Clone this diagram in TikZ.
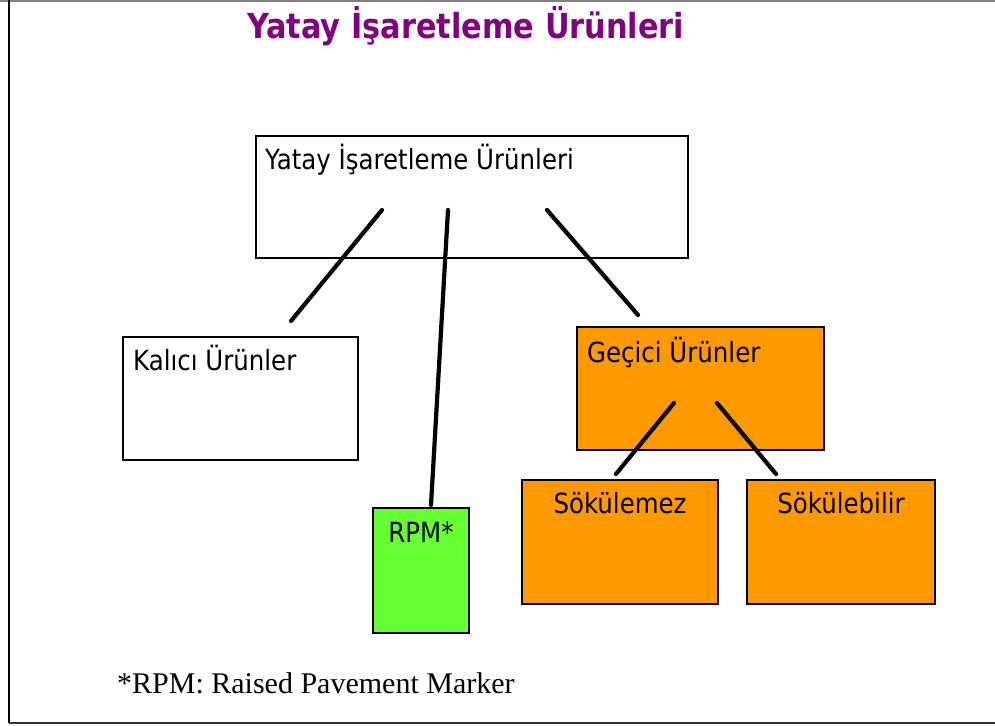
\documentclass[tikz,border=0pt]{standalone}
\usepackage{fontspec}
\setmainfont{Liberation Serif}
\newfontfamily\boxfont[FakeStretch=0.88]{DejaVu Sans}
\newfontfamily\titlefont[FakeStretch=0.88]{DejaVu Sans Bold}
\definecolor{titlepurple}{HTML}{800080}
\definecolor{tmporange}{HTML}{FF9900}
\definecolor{rpmgreen}{HTML}{66FF33}
\begin{document}
\begin{tikzpicture}[x=1pt,y=-1pt,
  box/.style={draw=black,line width=1.5pt,rectangle,inner sep=0pt,outer sep=0pt},
  boxtext/.style={font=\boxfont\fontsize{27.8}{30}\selectfont,inner sep=0pt,text=black},
  link/.style={line width=4.2pt,line cap=round},
]
\useasboundingbox (0,0) rectangle (995,725);
% page frame
\draw[line width=1.5pt,gray] (0,0.8) -- (995,0.8);
\draw[line width=2pt,black] (9,0) -- (9,723);
\draw[line width=1.8pt,black!80] (9,723) -- (995,723);

% title
\node[anchor=base west,inner sep=0pt,text=titlepurple,
      font=\titlefont\fontsize{34.5}{38}\selectfont] (title) at (247,38) {Yatay İşaretleme Ürünleri};

% boxes
\node[box,fill=white,minimum width=432pt,minimum height=122pt,anchor=north west] (root) at (256,136) {};
\node[box,fill=white,minimum width=235pt,minimum height=123pt,anchor=north west] (perm) at (123,337) {};
\node[box,fill=tmporange,minimum width=247pt,minimum height=123pt,anchor=north west] (temp) at (577,327) {};
\node[box,fill=rpmgreen,minimum width=96pt,minimum height=125pt,anchor=north west] (rpm) at (373,508) {};
\node[box,fill=tmporange,minimum width=196pt,minimum height=124pt,anchor=north west] (fixed) at (522,480) {};
\node[box,fill=tmporange,minimum width=188pt,minimum height=124pt,anchor=north west] (remov) at (747,480) {};

% box labels
\node[boxtext,anchor=base west] (rootlbl) at (265,169) {Yatay İşaretleme Ürünleri};
\node[boxtext,anchor=base west] (permlbl) at (133,370) {Kalıcı Ürünler};
\node[boxtext,anchor=base west] (templbl) at (587,362) {Geçici Ürünler};
\node[boxtext,anchor=base] (rpmlbl) at (rpm.north |- 0,542) {RPM*};
\node[boxtext,anchor=base] (fixedlbl) at (fixed.north |- 0,513) {Sökülemez};
\node[boxtext,anchor=base] (removlbl) at (remov.north |- 0,513) {Sökülebilir};

% connector end points
\coordinate (r1) at (382,210);
\coordinate (r2) at (448,210);
\coordinate (r3) at (547,210);
\coordinate (p1) at (291,321);
\coordinate (g1) at (431,505);
\coordinate (t1) at (638,315);
\coordinate (t2) at (674,403);
\coordinate (t3) at (717,403);
\coordinate (f1) at (616,474);
\coordinate (s1) at (776,474);

\draw[link] (r1) -- (p1);
\draw[link] (r2) -- (g1);
\draw[link] (r3) -- (t1);
\draw[link] (t2) -- (f1);
\draw[link] (t3) -- (s1);

% footnote
\node[anchor=base west,inner sep=0pt,font=\fontsize{30}{34}\selectfont] (note) at (117,693) {*RPM: Raised Pavement Marker};
\end{tikzpicture}
\end{document}
